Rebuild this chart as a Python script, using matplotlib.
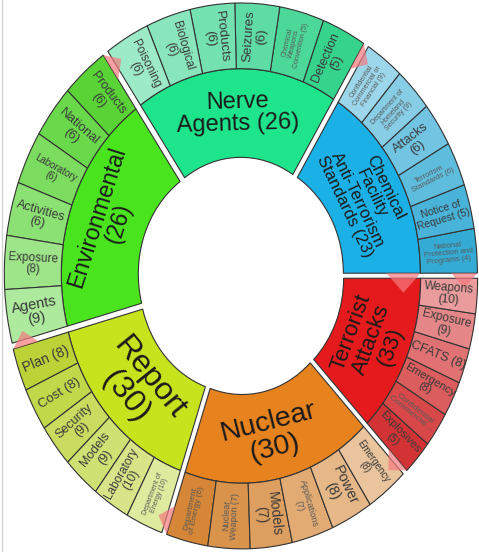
import numpy as np
import matplotlib.pyplot as plt
from matplotlib.patches import Wedge, Polygon

plt.rcParams["font.family"] = ["Liberation Sans", "DejaVu Sans"]

# inner ring, counter-clockwise from 3 o'clock
group_names = ["Chemical\nFacility\nAnti-Terrorism\nStandards ", "Nerve\nAgents ",
               "Environmental\n", "Report\n", "Nuclear\n", "Terrorist\nAttacks\n"]
group_counts = [23, 26, 26, 30, 30, 33]
# how much of the circle each group takes in the picture (not the same as the counts)
group_share = [58, 67, 70, 56, 63, 46]
group_colors = ["#1bb1e6", "#1ee48c", "#4ae41e", "#c6e41e", "#e6831e", "#e41a1c"]
group_font = [12, 17, 16.5, 23, 20.5, 16]

# outer ring, same order (counter-clockwise inside each group)
child_names = [
    ["National\nProtection and\nPrograms ", "Notice of\nRequest ", "Terrorism\nStandards ",
     "Attacks\n", "Department of\nHomeland\nSecurity ", "Confidential\nCommercial or\nFinancial "],
    ["Detection\n", "Chemical\nWeapons\nConvention ", "Seizures\n", "Products\n",
     "Biological\n", "Poisoning\n"],
    ["Products\n", "National\n", "Laboratory\n", "Activities\n", "Exposure\n", "Agents\n"],
    ["Plan ", "Cost ", "Security\n", "Models\n", "Laboratory\n", "Department of\nEnergy "],
    ["Department\nof Energy ", "Nuclear\nWeapon ", "Models\n", "Applications\n", "Power\n",
     "Emergency\n"],
    ["Explosives\n", "Confidential\nCommercial ...", "Emergency\n", "CFATS ", "Exposure\n",
     "Weapons\n"],
]
child_counts = [
    [4, 5, 6, 6, 9, 9],
    [5, 5, 6, 6, 6, 6],
    [6, 6, 6, 6, 8, 9],
    [8, 8, 9, 9, 10, 10],
    [6, 7, 7, 7, 8, 8],
    [5, None, 8, 8, 9, 10],
]
child_font = [
    [5.5, 7.5, 5.5, 9, 5, 5],
    [9, 5, 9.5, 9.5, 8.5, 8.5],
    [9, 9.5, 7, 9, 8.5, 10.5],
    [10, 9.5, 9, 9, 8.5, 5],
    [6, 6.5, 10, 6.5, 10.5, 7],
    [8, 6, 8, 9, 8.5, 8.5],
]

R0, R1, R2 = 98, 175, 232
EXPLODE = 5
K = 1.152  # picture is stretched vertically


def upright(a):
    return (a + 90) % 180 - 90


def screen_angle(dx, dy):
    return np.degrees(np.arctan2(dy * K, dx))


def mix(c, t, dark=0.9):
    rgb = np.array(plt.matplotlib.colors.to_rgb(c)) * dark
    return tuple(rgb + (1 - rgb) * t)


def pointer(ax, th, ra, rb, off, h):
    t = np.radians(th)
    u = np.array([np.cos(t), np.sin(t)])
    cw = np.array([np.sin(t), -np.cos(t)])
    p1 = off + u * ra
    p2 = off + u * rb
    p3 = off + u * (ra + rb) / 2 + cw * h
    ax.add_patch(Polygon([p1, p2, p3], closed=True, fc="#f47a7e", ec="none",
                         alpha=0.7, zorder=5))


fig = plt.figure(figsize=(4.79, 5.52), dpi=100)
ax = fig.add_axes([0, 0, 1, 1])
ax.set_xlim(-241, 238)
ax.set_ylim(-239.6, 239.6)
ax.axis("off")

share = np.array(group_share, dtype=float)
edges = np.concatenate([[0], np.cumsum(share / share.sum() * 360)])

for g in range(len(group_names)):
    a0, a1 = edges[g], edges[g + 1]
    mid = (a0 + a1) / 2
    m = np.radians(mid)
    off = np.array([np.cos(m), np.sin(m)]) * EXPLODE

    ax.add_patch(Wedge(off, R1, a0, a1, width=R1 - R0, fc=group_colors[g],
                       ec="#333333", lw=0.8, zorder=2))
    txt = group_names[g] + "(%d)" % group_counts[g]
    pos = off + np.array([np.cos(m), np.sin(m)]) * (R0 + R1) / 2
    rot = upright(screen_angle(-np.sin(m), np.cos(m)))
    ax.text(pos[0], pos[1], txt, fontsize=group_font[g], color="#1a1a1a",
            ha="center", va="center", rotation=rot, rotation_mode="anchor",
            linespacing=1.0, zorder=10)

    n = len(child_names[g])
    step = (a1 - a0) / n
    for i in range(n):
        c0 = a0 + i * step
        ax.add_patch(Wedge(off, R2, c0, c0 + step, width=R2 - R1,
                           fc=mix(group_colors[g], 0.12 + 0.09 * i), ec="#333333",
                           lw=0.8, zorder=2))
        cm = np.radians(c0 + step / 2)
        cpos = off + np.array([np.cos(cm), np.sin(cm)]) * (R1 + R2) / 2
        crot = upright(screen_angle(np.cos(cm), np.sin(cm)))
        label = child_names[g][i]
        if child_counts[g][i] is not None:
            label += "(%d)" % child_counts[g][i]
        fs = child_font[g][i]
        ax.text(cpos[0], cpos[1], label, fontsize=fs,
                color="#3a3a3a" if fs >= 7 else "#5a5a5a",
                ha="center", va="center", rotation=crot, rotation_mode="anchor",
                linespacing=1.0, zorder=10)

    pointer(ax, a0, R2 - 26, R2, off, 13)
    if g == 0:
        pointer(ax, a0, R1 - 34, R1, off, 17)

fig.add_artist(plt.Line2D([0.004, 0.004], [0, 1], color="#d4d4d4", lw=1))

fig.savefig("out.png", dpi=100, facecolor="white")
